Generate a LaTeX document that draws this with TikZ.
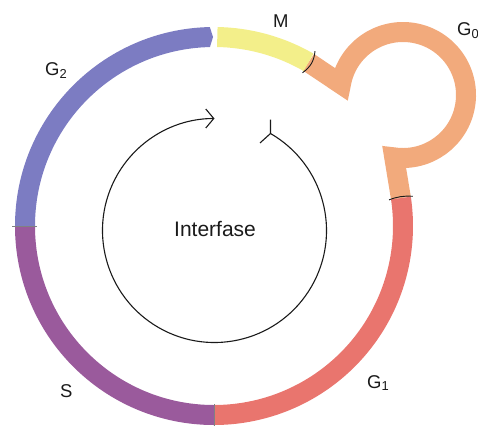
\documentclass[tikz,border=0pt]{standalone}
\usepackage{fontspec}
\setmainfont{Liberation Sans}
\usetikzlibrary{arrows.meta,calc}
\definecolor{ink}{HTML}{1A1A1A}
\definecolor{gtwo}{HTML}{7C7CC2}
\definecolor{mitosis}{HTML}{F3EF8A}
\definecolor{gzero}{HTML}{F2AA7C}
\definecolor{gone}{HTML}{E9756E}
\definecolor{synth}{HTML}{9A5A9C}
\tikzset{
  phase/.style={line width=20pt},
  band/.style={line width=20pt, line join=miter},
  tick/.style={draw=ink, line width=0.9pt},
  faint/.style={draw=ink!55, line width=0.6pt},
  loopline/.style={draw=ink, line width=1.1pt},
  phasename/.style={font=\fontsize{18.5}{22}\selectfont, text=ink, inner sep=0pt, anchor=base west},
  centre/.style={font=\fontsize{21}{25}\selectfont, text=ink, inner sep=0pt, anchor=base west},
}

\begin{document}
\begin{tikzpicture}[x=1pt,y=1pt]
  \useasboundingbox (-214,-203) rectangle (264,226);
  \coordinate (ring) at (0,0);
  \coordinate (hub) at (189,131);
  \coordinate (mid) at (0.5,-4.5);

  \draw[band, gzero] (60:189) -- ($(hub)+(170:63)$) arc[start angle=170, end angle=-98, radius=63] -- (8.5:189);
  \draw[phase, mitosis] (89:189) arc[start angle=89, end angle=60, radius=189];
  \draw[phase, gone] (8.5:189) arc[start angle=8.5, end angle=-90, radius=189];
  \draw[phase, synth] (-90:189) arc[start angle=-90, end angle=-180, radius=189];
  \fill[gtwo] (180:199) arc[start angle=180, end angle=91.2, radius=199] -- (90.3:189) -- (91.3:179) arc[start angle=91.3, end angle=180, radius=179] -- cycle;

  \draw[tick] (60:177) to[bend right=25] (60:202);
  \draw[tick] (8.5:177) to[bend left=12] (8.5:201);
  \draw[faint] (180:177) -- (180:202);
  \draw[faint] (-90:178) -- (-90:200);

  \coordinate (tail) at ($(mid)+(60:112)$);
  \draw[loopline, -{Straight Barb[length=8pt,width=19pt]}] (tail) arc[start angle=60, end angle=-270, radius=112];
  \draw[loopline] (tail) -- ++(90:14) (tail) -- ++(222:14);

  \node[phasename] (mlab) at (59,199) {M};
  \node[phasename] (g0lab) at (243,191) {G\textsubscript{0}};
  \node[phasename] (g2lab) at (-169,151) {G\textsubscript{2}};
  \node[phasename] (slab) at (-154,-171) {S};
  \node[phasename] (g1lab) at (153,-162) {G\textsubscript{1}};
  \node[centre] (inter) at (-40,-10) {Interfase};
\end{tikzpicture}
\end{document}
